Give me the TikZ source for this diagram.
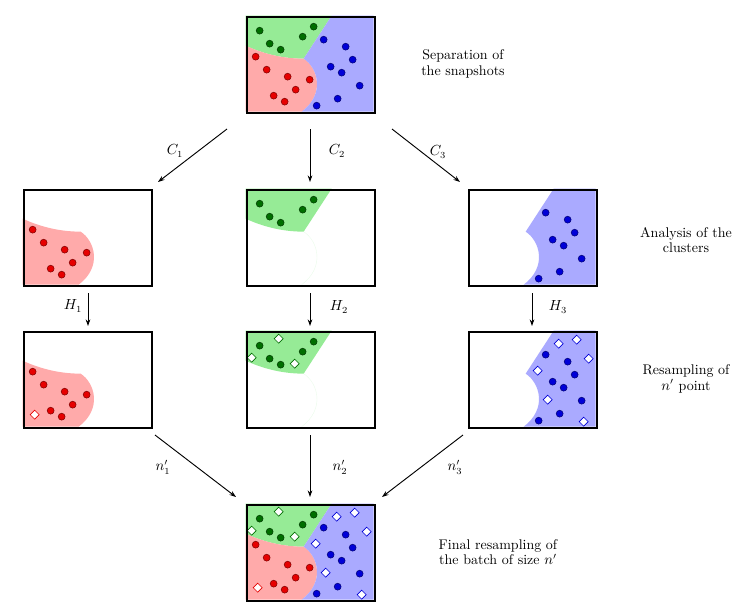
\documentclass[tikz,border=0pt]{standalone}
\usetikzlibrary{backgrounds,arrows.meta}

\definecolor{gzone}{RGB}{150,235,150}
\definecolor{rzone}{RGB}{255,170,170}
\definecolor{bzone}{RGB}{170,170,255}
\definecolor{gpt}{RGB}{0,110,0}
\definecolor{rpt}{RGB}{230,0,0}
\definecolor{bpt}{RGB}{0,0,215}

% the three clusters of a snapshot (box of 128 x 96)
\newcommand{\greenzone}{(0,0) -- (86,0) -- (58,43) .. controls (35,43) and (15,37) .. (0,30) -- cycle}
\newcommand{\redzone}{(0,30) .. controls (15,37) and (35,43) .. (58,43) .. controls (72,52) and (80,78) .. (56,96) -- (0,96) -- cycle}
\newcommand{\bluezone}{(86,0) -- (128,0) -- (128,96) -- (56,96) .. controls (80,78) and (72,52) .. (58,43) -- cycle}

% points of each cluster
\newcommand{\gpts}{14/15,24/28,35/34,57/21,68/11}
\newcommand{\rpts}{10/41,21/54,42/61,64/64,50/74,28/80,39/86}
\newcommand{\bpts}{78/24,100/31,107/44,85/51,96/57,114/70,92/83,71/90}
\newcommand{\gnew}{33/8,6/27,49/33}
\newcommand{\rnew}{12/84}
\newcommand{\bnew}{91/13,109/9,121/28,70/40,80/69,116/91}

\tikzset{
  snap/.style={draw, line width=2pt, minimum width=96pt, minimum height=72pt, inner sep=0pt},
  pt/.style={draw=#1!55!black, fill=#1, line width=0.4pt},
  newpt/.style={draw=#1, fill=white, line width=0.5pt},
  lbl/.style={font=\fontsize{10.5}{11.5}\selectfont, align=center},
  flow/.style={-{Stealth[length=5pt,width=3.5pt]}, line width=0.7pt},
}

\newcommand{\drawpts}[2]{\foreach \px/\py in #1 \filldraw[pt=#2] (\px,\py) circle (2.6pt);}
\newcommand{\drawnew}[2]{\foreach \px/\py in #1 \filldraw[newpt=#2] (\px,\py) ++(0,-4.5) -- ++(4.5,4.5) -- ++(-4.5,4.5) -- ++(-4.5,-4.5) -- cycle;}

\begin{document}
\begin{tikzpicture}[x=0.75pt, y=-0.75pt]
   \useasboundingbox (0,0) rectangle (747,611);

   % snapshots
   \node[snap] (full)  at (311,65)  {};
   \node[snap] (c1)    at (88,238)  {};
   \node[snap] (c2)    at (311,238) {};
   \node[snap] (c3)    at (533,238) {};
   \node[snap] (r1)    at (88,380)  {};
   \node[snap] (r2)    at (311,380) {};
   \node[snap] (r3)    at (533,380) {};
   \node[snap] (final) at (311,553) {};

   \begin{pgfonlayer}{background}
    \foreach \b in {full,final} {
     \begin{scope}[shift={(\b.north west)}]
      \fill[gzone] \greenzone;
      \fill[rzone] \redzone;
      \fill[bzone] \bluezone;
      \drawpts{\gpts}{gpt}
      \drawpts{\rpts}{rpt}
      \drawpts{\bpts}{bpt}
     \end{scope}
    }
    \foreach \b in {c1,r1} {
     \begin{scope}[shift={(\b.north west)}]
      \fill[rzone] \redzone;
      \drawpts{\rpts}{rpt}
     \end{scope}
    }
    \foreach \b in {c2,r2} {
     \begin{scope}[shift={(\b.north west)}]
      \fill[gzone] \greenzone;
      \draw[gzone!20, line width=0.3pt] (58,43) .. controls (72,52) and (80,78) .. (56,96);
      \drawpts{\gpts}{gpt}
     \end{scope}
    }
    \foreach \b in {c3,r3} {
     \begin{scope}[shift={(\b.north west)}]
      \fill[bzone] \bluezone;
      \drawpts{\bpts}{bpt}
     \end{scope}
    }
    % resampled points
    \begin{scope}[shift={(final.north west)}]
     \drawnew{\gnew}{gpt}
     \drawnew{\rnew}{rpt}
     \drawnew{\bnew}{bpt}
    \end{scope}
    \begin{scope}[shift={(r1.north west)}]
     \drawnew{\rnew}{rpt}
    \end{scope}
    \begin{scope}[shift={(r2.north west)}]
     \drawnew{\gnew}{gpt}
    \end{scope}
    \begin{scope}[shift={(r3.north west)}]
     \drawnew{\bnew}{bpt}
    \end{scope}
   \end{pgfonlayer}

   % steps
   \node[lbl] (sep)  at (463,64)  {Separation of\\the snapshots};
   \node[lbl] (ana)  at (686,240) {Analysis of the\\clusters};
   \node[lbl] (res)  at (686,379) {Resampling of\\$n'$ point};
   \node[lbl] (fin)  at (498,552) {Final resampling of\\the batch of size $n'$};

   % arrow ends
   \coordinate (cs1) at (227,129);  \coordinate (ce1) at (158,182);
   \coordinate (cs2) at (310,129);  \coordinate (ce2) at (310,182);
   \coordinate (cs3) at (392,129);  \coordinate (ce3) at (460,182);
   \coordinate (hs1) at (88,293);   \coordinate (he1) at (88,326);
   \coordinate (hs2) at (310,293);  \coordinate (he2) at (310,326);
   \coordinate (hs3) at (532,293);  \coordinate (he3) at (532,326);
   \coordinate (ns1) at (155,435);  \coordinate (ne1) at (236,497);
   \coordinate (ns2) at (310,435);  \coordinate (ne2) at (310,497);
   \coordinate (ns3) at (463,435);  \coordinate (ne3) at (382,497);

   \draw[flow] (cs1) -- (ce1);
   \draw[flow] (cs2) -- (ce2);
   \draw[flow] (cs3) -- (ce3);
   \draw[flow] (hs1) -- (he1);
   \draw[flow] (hs2) -- (he2);
   \draw[flow] (hs3) -- (he3);
   \draw[flow] (ns1) -- (ne1);
   \draw[flow] (ns2) -- (ne2);
   \draw[flow] (ns3) -- (ne3);

   \node[lbl] (lc1) at (175,151) {$C_1$};
   \node[lbl] (lc2) at (337,151) {$C_2$};
   \node[lbl] (lc3) at (438,152) {$C_3$};
   \node[lbl] (lh1) at (73,306)  {$H_1$};
   \node[lbl] (lh2) at (339,307) {$H_2$};
   \node[lbl] (lh3) at (558,307) {$H_3$};
   \node[lbl] (ln1) at (163,467) {$n'_1$};
   \node[lbl] (ln2) at (340,467) {$n'_2$};
   \node[lbl] (ln3) at (455,467) {$n'_3$};
\end{tikzpicture}
\end{document}
